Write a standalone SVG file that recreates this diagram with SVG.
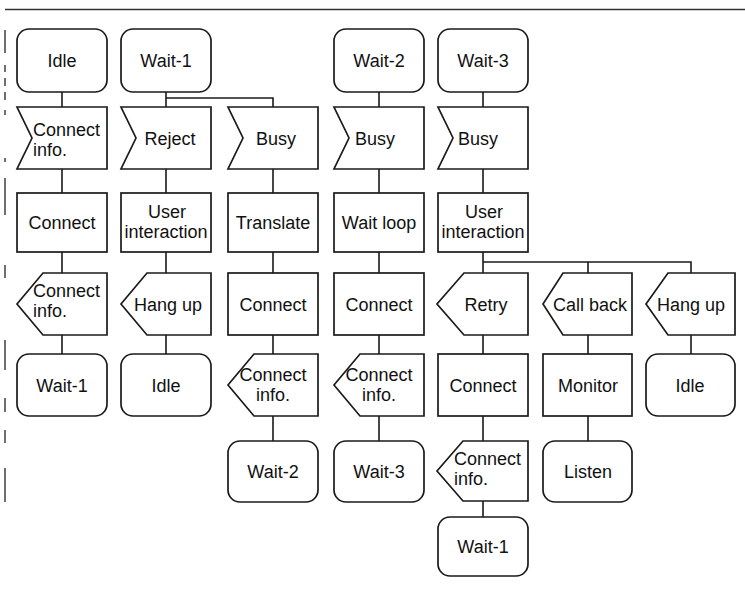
<svg xmlns="http://www.w3.org/2000/svg" width="745" height="589" viewBox="0 0 745 589">
<style>
.s{fill:#fff;stroke:#1a1a1a;stroke-width:1.7}
.c{fill:none;stroke:#1a1a1a;stroke-width:1.6}
.b{fill:none;stroke:#333;stroke-width:1.4}
text{font-family:"Liberation Sans",Arial,sans-serif;font-size:18px;fill:#111;text-anchor:middle}
text.l{text-anchor:start}
</style>
<rect width="745" height="589" fill="#fff"/>
<g id="page-border">
<line class="b" x1="5" y1="9.5" x2="745" y2="9.5"/>
<path class="b" d="M5 30V53M5 65V72M5 78V86M5 92V100M5 110V115M5 158V162M5 178V215M5 265V278M5 340V370M5 398V412M5 430V443M5 468V502"/>
</g>
<g id="connectors">
<path class="c" d="M62 92V107M62 169V193M62 252V273M62 335V354"/>
<path class="c" d="M166 92V107M166 98H273V107M166 169V193M166 252V273M166 335V354"/>
<path class="c" d="M273 169V193M273 252V273M273 335V354M273 416V441"/>
<path class="c" d="M379 92V107M379 169V193M379 252V273M379 335V354M379 416V441"/>
<path class="c" d="M483 92V107M483 169V193M483 252V273M483 262H691V273M588 262V273M483 335V354M483 416V441M483 501V517"/>
<path class="c" d="M588 335V354M588 416V441"/>
<path class="c" d="M691 335V354"/>
</g>
<g id="n-idle-1"><rect class="s" x="17" y="29" width="90" height="63" rx="12"/><text x="62" y="67">Idle</text></g>
<g id="n-wait1-1"><rect class="s" x="121" y="29" width="90" height="63" rx="12"/><text x="166" y="67">Wait-1</text></g>
<g id="n-wait2-1"><rect class="s" x="334" y="29" width="90" height="63" rx="12"/><text x="379" y="67">Wait-2</text></g>
<g id="n-wait3-1"><rect class="s" x="438" y="29" width="90" height="63" rx="12"/><text x="483" y="67">Wait-3</text></g>

<g id="n-in-connectinfo"><polygon class="s" points="17,107 107,107 107,169 17,169 32,138"/><text class="l" x="33" y="136">Connect</text><text class="l" x="33" y="156">info.</text></g>
<g id="n-in-reject"><polygon class="s" points="121,107 211,107 211,169 121,169 136,138"/><text x="170" y="145">Reject</text></g>
<g id="n-in-busy-1"><polygon class="s" points="228,107 318,107 318,169 228,169 243,138"/><text x="276" y="145">Busy</text></g>
<g id="n-in-busy-2"><polygon class="s" points="334,107 424,107 424,169 334,169 349,138"/><text x="375" y="145">Busy</text></g>
<g id="n-in-busy-3"><polygon class="s" points="438,107 528,107 528,169 438,169 453,138"/><text x="478" y="145">Busy</text></g>

<g id="n-connect-1"><rect class="s" x="17" y="193" width="90" height="59"/><text x="62" y="229">Connect</text></g>
<g id="n-userinteraction-1"><rect class="s" x="121" y="193" width="90" height="59"/><text x="167" y="218">User</text><text x="166" y="238">interaction</text></g>
<g id="n-translate"><rect class="s" x="228" y="193" width="90" height="59"/><text x="273" y="229">Translate</text></g>
<g id="n-waitloop"><rect class="s" x="334" y="193" width="90" height="59"/><text x="379" y="229">Wait loop</text></g>
<g id="n-userinteraction-2"><rect class="s" x="438" y="193" width="90" height="59"/><text x="484" y="218">User</text><text x="483" y="238">interaction</text></g>

<g id="n-out-connectinfo-1"><polygon class="s" points="43,273 107,273 107,335 43,335 17,304"/><text class="l" x="33" y="297">Connect</text><text class="l" x="33" y="317">info.</text></g>
<g id="n-out-hangup-1"><polygon class="s" points="147,273 211,273 211,335 147,335 121,304"/><text x="168" y="311">Hang up</text></g>
<g id="n-connect-2"><rect class="s" x="228" y="273" width="90" height="62"/><text x="273" y="311">Connect</text></g>
<g id="n-connect-3"><rect class="s" x="334" y="273" width="90" height="62"/><text x="379" y="311">Connect</text></g>
<g id="n-out-retry"><polygon class="s" points="464,273 528,273 528,335 464,335 437,304"/><text x="486" y="311">Retry</text></g>
<g id="n-out-callback"><polygon class="s" points="563,273 632,273 632,335 563,335 543,304"/><text x="590" y="311">Call back</text></g>
<g id="n-out-hangup-2"><polygon class="s" points="668,273 735,273 735,335 668,335 646,304"/><text x="691" y="311">Hang up</text></g>

<g id="n-wait1-2"><rect class="s" x="17" y="354" width="90" height="62" rx="12"/><text x="62" y="392">Wait-1</text></g>
<g id="n-idle-2"><rect class="s" x="121" y="354" width="90" height="62" rx="12"/><text x="166" y="392">Idle</text></g>
<g id="n-out-connectinfo-2"><polygon class="s" points="254,354 318,354 318,416 254,416 228,385"/><text x="273" y="381">Connect</text><text x="273" y="401">info.</text></g>
<g id="n-out-connectinfo-3"><polygon class="s" points="360,354 424,354 424,416 360,416 334,385"/><text x="379" y="381">Connect</text><text x="379" y="401">info.</text></g>
<g id="n-connect-4"><rect class="s" x="438" y="354" width="90" height="62"/><text x="483" y="392">Connect</text></g>
<g id="n-monitor"><rect class="s" x="543" y="354" width="89" height="62"/><text x="588" y="392">Monitor</text></g>
<g id="n-idle-3"><rect class="s" x="646" y="354" width="89" height="62" rx="12"/><text x="690" y="392">Idle</text></g>

<g id="n-wait2-2"><rect class="s" x="228" y="441" width="90" height="61" rx="12"/><text x="273" y="478">Wait-2</text></g>
<g id="n-wait3-2"><rect class="s" x="334" y="441" width="90" height="61" rx="12"/><text x="379" y="478">Wait-3</text></g>
<g id="n-out-connectinfo-4"><polygon class="s" points="463,441 528,441 528,501 463,501 437,471"/><text class="l" x="454" y="465">Connect</text><text class="l" x="454" y="485">info.</text></g>
<g id="n-listen"><rect class="s" x="543" y="441" width="89" height="61" rx="12"/><text x="588" y="478">Listen</text></g>

<g id="n-wait1-3"><rect class="s" x="438" y="517" width="90" height="59" rx="12"/><text x="483" y="553">Wait-1</text></g>
</svg>
